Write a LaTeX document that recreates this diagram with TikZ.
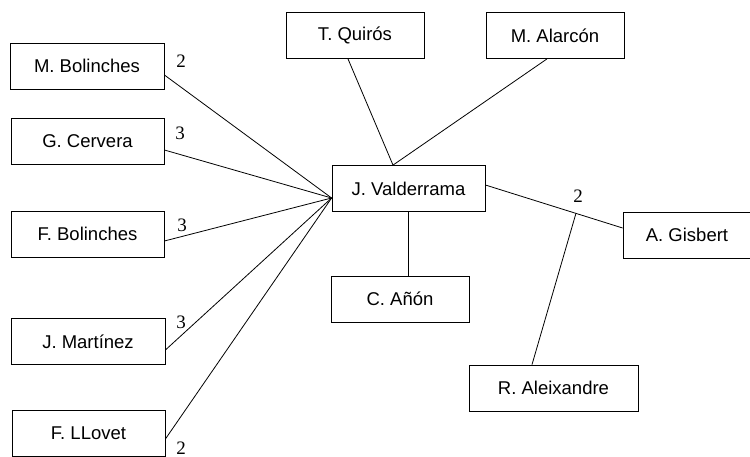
\documentclass[tikz,border=0pt]{standalone}
\usepackage{fontspec}
\setmainfont{Liberation Sans}
\newfontfamily\numfont{Liberation Serif}
\usetikzlibrary{calc}
\tikzset{
  person/.style={draw,line width=0.8pt,minimum height=46pt,inner sep=0pt,
    font=\fontsize{18.5}{20}\selectfont},
  link/.style={line width=0.8pt},
  weight/.style={inner sep=0pt,font=\numfont\fontsize{19}{20}\selectfont}
}
\begin{document}
\begin{tikzpicture}[x=1pt,y=-1pt]
    \useasboundingbox (0,0) rectangle (750,457);
    % people
    \node[person,minimum width=154pt] (mb) at (87,66) {M. Bolinches};
    \node[person,minimum width=153pt] (gc) at (87.5,141.5) {G. Cervera};
    \node[person,minimum width=153pt] (fb) at (87.5,234) {F. Bolinches};
    \node[person,minimum width=154pt] (jm) at (88,341.5) {J. Mart\'inez};
    \node[person,minimum width=153pt] (fl) at (88.5,433.5) {F. LLovet};
    \node[person,minimum width=138pt] (tq) at (355,35.5) {T. Quir\'os};
    \node[person,minimum width=138pt] (ma) at (555,35.5) {M. Alarc\'on};
    \node[person,minimum width=153pt] (jv) at (408.5,188.5) {J. Valderrama};
    \node[person,minimum width=128pt] (ag) at (687,235) {A. Gisbert};
    \node[person,minimum width=138pt] (ca) at (400,299) {C. A\~n\'on};
    \node[person,minimum width=169pt] (ra) at (553.5,388) {R. Aleixandre};
    % meeting points
    \coordinate (hub) at ([yshift=-9.5pt]jv.west);
    \coordinate (top) at ([xshift=-15.5pt]jv.north);
    \coordinate (jvE) at ([yshift=3.5pt]jv.east);
    \coordinate (agW) at ([yshift=7pt]ag.west);
    \coordinate (join) at ($(jvE)!0.66!(agW)$);
    % links
    \draw[link] ([yshift=-9pt]mb.east) -- (hub);
    \draw[link] ([yshift=-8.5pt]gc.east) -- (hub);
    \draw[link] ([yshift=-7pt]fb.east) -- (hub);
    \draw[link] ([yshift=-8.5pt]jm.east) -- (hub);
    \draw[link] ([yshift=-5.5pt]fl.east) -- (hub);
    \draw[link] ([xshift=-7pt]tq.south) -- (top);
    \draw[link] ([xshift=-8pt]ma.south) -- (top);
    \draw[link] (jvE) -- (agW);
    \draw[link] (jv.south) -- (jv.south |- ca.north);
    \draw[link] ([xshift=-21.5pt]ra.north) -- (join);
    % weights
    \node[weight] (w1) at (181,61) {2};
    \node[weight] (w2) at (180,133) {3};
    \node[weight] (w3) at (182,225) {3};
    \node[weight] (w4) at (181,322) {3};
    \node[weight] (w5) at (181,448) {2};
    \node[weight] (w6) at (578,196) {2};
\end{tikzpicture}
\end{document}
